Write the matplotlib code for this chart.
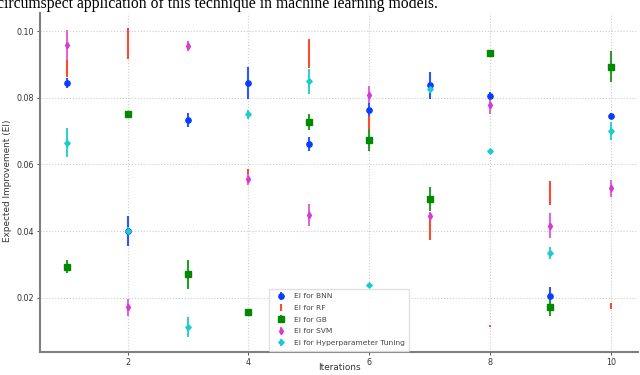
import matplotlib
matplotlib.use("Agg")
import matplotlib.pyplot as plt
import numpy as np

iterations = [1, 2, 3, 4, 5, 6, 7, 8, 9, 10]

bnn_mean = [0.0843, 0.0401, 0.0733, 0.0845, 0.0661, 0.0763, 0.0837, 0.0805, 0.0206, 0.0745]
bnn_err = [0.0015, 0.0045, 0.0021, 0.0048, 0.0021, 0.0027, 0.0041, 0.0012, 0.0028, 0.0008]

rf_mean = [0.0888, 0.0962, 0.0956, 0.0565, 0.0933, 0.0720, 0.0410, 0.0116, 0.0515, 0.0176]
rf_err = [0.0025, 0.0046, 0.0012, 0.0020, 0.0043, 0.0025, 0.0037, 0.0002, 0.0036, 0.0009]

gb_mean = [0.0294, 0.0750, 0.0271, 0.0159, 0.0727, 0.0673, 0.0496, 0.0934, 0.0174, 0.0893]
gb_err = [0.0020, 0.0003, 0.0043, 0.0003, 0.0024, 0.0034, 0.0036, 0.0003, 0.0029, 0.0047]

svm_mean = [0.0959, 0.0172, 0.0956, 0.0556, 0.0449, 0.0809, 0.0447, 0.0778, 0.0417, 0.0529]
svm_err = [0.0045, 0.0025, 0.0015, 0.0016, 0.0032, 0.0025, 0.0012, 0.0028, 0.0037, 0.0025]

ht_mean = [0.0665, 0.0402, 0.0114, 0.0750, 0.0849, 0.0239, 0.0826, 0.0640, 0.0334, 0.0700]
ht_err = [0.0044, 0.0010, 0.0030, 0.0013, 0.0037, 0.0007, 0.0012, 0.0007, 0.0018, 0.0027]

fig = plt.figure(figsize=(6.4, 3.75), dpi=100)
ax = fig.add_axes([40/640, 1-352/375, 598/640, (352-13)/375])

ax.errorbar(iterations, bnn_mean, yerr=bnn_err, fmt='o', color='#0a3cff', ms=3.8,
            ecolor='#2a55ff', elinewidth=1.5, label='EI for BNN')
ax.errorbar(iterations, rf_mean, yerr=rf_err, fmt='none', ecolor='#ff4a30',
            elinewidth=1.5, label='EI for RF')
ax.errorbar(iterations, gb_mean, yerr=gb_err, fmt='s', color='#008a00', ms=3.8,
            ecolor='#2a9a2a', elinewidth=1.5, label='EI for GB')
ax.errorbar(iterations, svm_mean, yerr=svm_err, fmt='d', color='#d43cd4', ms=3.3,
            ecolor='#dd66dd', elinewidth=1.5, label='EI for SVM')
ax.errorbar(iterations, ht_mean, yerr=ht_err, fmt='D', color='#1ccccc', ms=2.8,
            ecolor='#33d0d0', elinewidth=1.5, label='EI for Hyperparameter Tuning')

ax.set_xlim(0.55, 10.45)
ax.set_ylim(0.0038, 0.1054)
ax.set_xticks([2, 4, 6, 8, 10])
ax.set_yticks([0.02, 0.04, 0.06, 0.08, 0.10])
ax.set_yticklabels(['0.02', '0.04', '0.06', '0.08', '0.10'])
ax.tick_params(labelsize=5.8, colors='#333333', length=2, width=0.6, pad=2)
ax.grid(True, linestyle=':', color='#cccccc', linewidth=0.8)
ax.set_axisbelow(True)
for s in ['top', 'right']:
    ax.spines[s].set_visible(False)
for s in ['left', 'bottom']:
    ax.spines[s].set_color('#7f7f7f')
    ax.spines[s].set_linewidth(1.5)

ax.set_xlabel('Iterations', fontsize=6.4, color='#333333')
ax.set_ylabel('Expected Improvement (EI)', fontsize=6.4, color='#333333')
ax.yaxis.set_label_coords((12.5 - 40) / 598, (352 - 181) / 339)
ax.xaxis.set_label_coords((339 - 40) / 598, -(363 - 352) / 339)

leg = ax.legend(loc='lower center', fontsize=5.4, borderaxespad=0.2,
                labelspacing=0.72, borderpad=0.6,
                framealpha=0.9, edgecolor='#dddddd', labelcolor='#444444')

fig.text(-0.004, 1-7.5/375, 'circumspect application of this technique in machine learning models.',
         family='Liberation Serif', fontsize=11.3, va='baseline', ha='left')

fig.savefig('out.png', dpi=100)
